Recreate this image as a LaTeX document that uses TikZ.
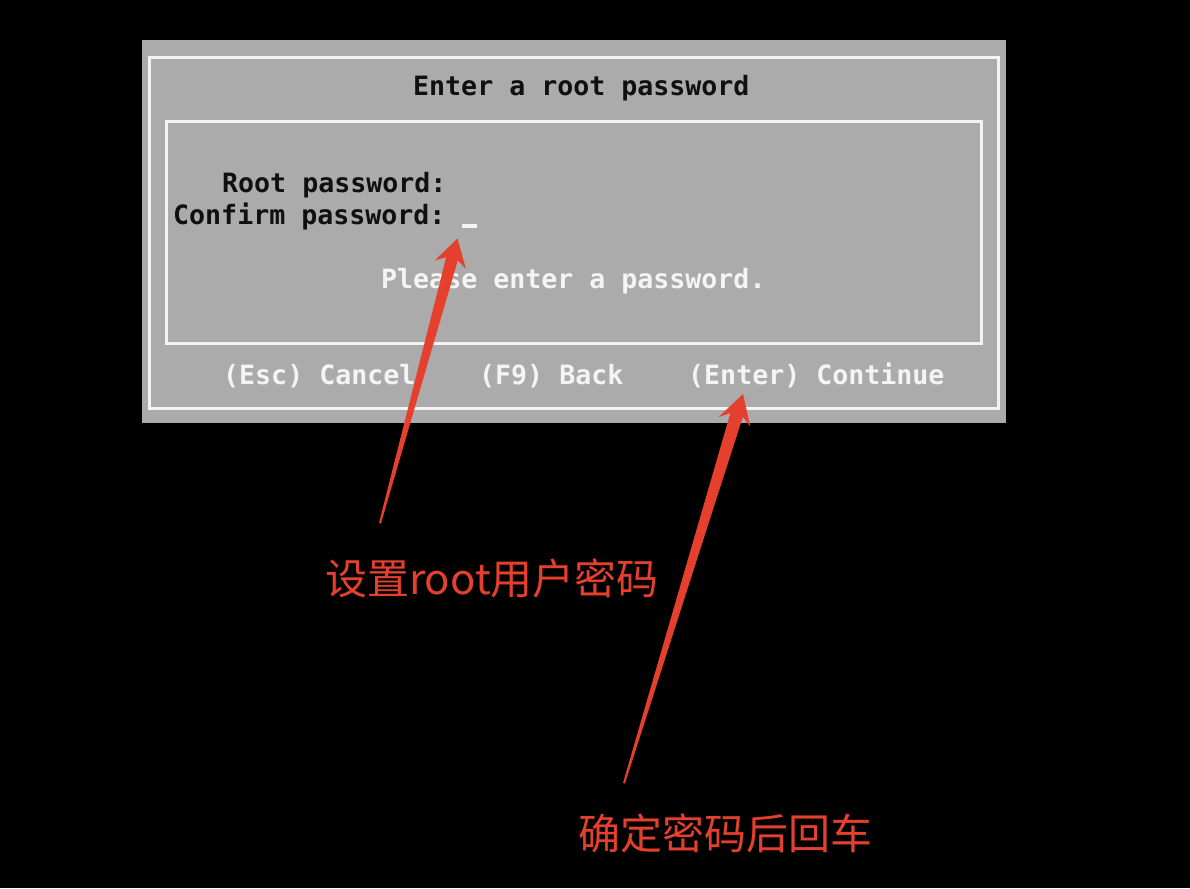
\documentclass[tikz,border=0pt]{standalone}
\usepackage{fontspec}
\newfontfamily\termfont{DejaVu Sans Mono}
\newfontfamily\cjk{Noto Sans CJK SC}
\usetikzlibrary{calc}
\definecolor{termgray}{HTML}{ABABAB}
\definecolor{termdark}{HTML}{101010}
\definecolor{termwhite}{HTML}{F4F4F4}
\definecolor{notered}{HTML}{E5402D}
\begin{document}
\begin{tikzpicture}[x=1pt,y=-1pt,
    term/.style={font=\termfont\bfseries\fontsize{26.6}{30}\selectfont, inner sep=0pt, anchor=base west, text=termdark},
    termlight/.style={term, text=termwhite},
    frame/.style={draw=termwhite, line width=3pt},
    note/.style={font=\cjk\fontsize{42}{48}\selectfont, inner sep=0pt, text=notered},
    pointer/.style={fill=notered}]
                \fill[black] (0,0) rectangle (1190,888);
                \fill[termgray] (142,40) rectangle (1006,423);
                \draw[frame] (149.5,57.5) rectangle (998.5,408.5);
                \draw[frame] (166.5,121.5) rectangle (981.5,343.5);

                \node[term] (title) at (413,96) {Enter a root password};
                \node[term] (root) at (222,192) {Root password:};
                \node[term] (confirm) at (173,224) {Confirm password:};
                \node[fill=termwhite, minimum width=15pt, minimum height=4pt, inner sep=0pt] (cursor) at (469.5,225.5) {};
                \node[termlight] (hint) at (381,288) {Please enter a password.};
                \node[termlight] (cancel) at (223,384) {(Esc) Cancel};
                \node[termlight] (back) at (479,384) {(F9) Back};
                \node[termlight] (enter) at (688,384) {(Enter) Continue};

                \node[note] (setnote) at (492,578) {设置root用户密码};
                \node[note] (enternote) at (725,833) {确定密码后回车};

                % tapered pointers
                \coordinate (tip1) at ($(cursor.center)+(-12,13)$);
                \coordinate (tail1) at ($(setnote.north)+(-112,-35)$);
                \coordinate (hs1) at ($(tip1)!21pt!(tail1)$);
                \coordinate (hb1) at ($(tip1)!27pt!(tail1)$);
                \fill[pointer] ($(tail1)!1pt!90:(tip1)$) -- ($(hs1)!6pt!90:(tip1)$) -- ($(hb1)!16pt!90:(tip1)$) -- (tip1)
                    -- ($(hb1)!16pt!-90:(tip1)$) -- ($(hs1)!6pt!-90:(tip1)$) -- ($(tail1)!1pt!-90:(tip1)$) -- cycle;

                \coordinate (tip2) at ($(enter.base west)+(55,10)$);
                \coordinate (tail2) at ($(enternote.north)+(-101,-30)$);
                \coordinate (hs2) at ($(tip2)!22pt!(tail2)$);
                \coordinate (hb2) at ($(tip2)!29pt!(tail2)$);
                \fill[pointer] ($(tail2)!1pt!90:(tip2)$) -- ($(hs2)!6.5pt!90:(tip2)$) -- ($(hb2)!16.5pt!90:(tip2)$) -- (tip2)
                    -- ($(hb2)!16.5pt!-90:(tip2)$) -- ($(hs2)!6.5pt!-90:(tip2)$) -- ($(tail2)!1pt!-90:(tip2)$) -- cycle;
            \end{tikzpicture}
\end{document}
